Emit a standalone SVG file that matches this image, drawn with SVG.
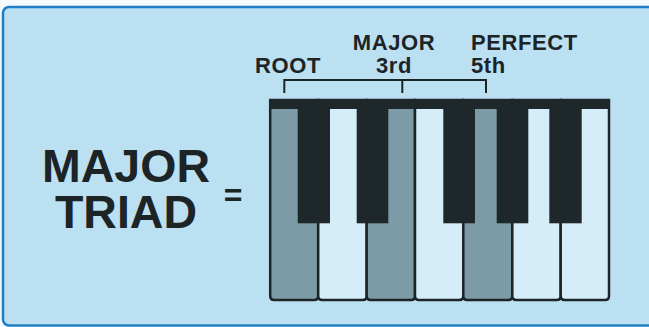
<svg xmlns="http://www.w3.org/2000/svg" width="649" height="327" viewBox="0 0 649 327">
<style>
.t{font-family:"Liberation Sans",Arial,sans-serif;font-weight:bold;fill:#1c2426}
.s{font-size:22px;letter-spacing:0.6px}
.wk{fill:#d5edf8;stroke:#1c2426;stroke-width:2.5}
.gk{fill:#7d9ba7;stroke:#1c2426;stroke-width:2.5}
.bk{fill:#1e2729}
.br{fill:none;stroke:#1c2426;stroke-width:2}
</style>
<rect width="649" height="327" fill="#f4fafd"/>
<rect id="frame" x="3" y="7" width="700" height="318.5" rx="6" fill="#bbe0f2" stroke="#1f7fc4" stroke-width="2.5"/>
<g id="title">
<text class="t" x="126" y="181.7" font-size="46.5" text-anchor="middle">MAJOR</text>
<text class="t" x="126" y="227.7" font-size="46.5" text-anchor="middle">TRIAD</text>
<text class="t" x="233" y="206" font-size="32" text-anchor="middle">=</text>
</g>
<g id="keyboard">
<path class="gk" d="M270.2,100 H318.2 V296 Q318.2,300 314.2,300 H274.2 Q270.2,300 270.2,296 Z"/>
<path class="wk" d="M318.2,100 H366.7 V296 Q366.7,300 362.7,300 H322.2 Q318.2,300 318.2,296 Z"/>
<path class="gk" d="M366.7,100 H415 V296 Q415,300 411,300 H370.7 Q366.7,300 366.7,296 Z"/>
<path class="wk" d="M415,100 H463.3 V296 Q463.3,300 459.3,300 H419 Q415,300 415,296 Z"/>
<path class="gk" d="M463.3,100 H512.3 V296 Q512.3,300 508.3,300 H467.3 Q463.3,300 463.3,296 Z"/>
<path class="wk" d="M512.3,100 H560.7 V296 Q560.7,300 556.7,300 H516.3 Q512.3,300 512.3,296 Z"/>
<path class="wk" d="M560.7,100 H609 V296 Q609,300 605,300 H564.7 Q560.7,300 560.7,296 Z"/>
<rect class="bk" x="269" y="99" width="341" height="10"/>
<rect class="bk" x="297.7" y="99" width="32.3" height="124.3"/>
<rect class="bk" x="356.7" y="99" width="31.6" height="124.3"/>
<rect class="bk" x="443.3" y="99" width="31.7" height="124.3"/>
<rect class="bk" x="496.7" y="99" width="31.6" height="124.3"/>
<rect class="bk" x="549.3" y="99" width="32.4" height="124.3"/>
</g>
<g id="connectors">
<path class="br" d="M284.3,93 V80 H486 V93 M402.3,80 V93"/>
</g>
<g id="labels">
<text class="t s" x="288" y="73.3" text-anchor="middle">ROOT</text>
<text class="t s" x="394" y="50" text-anchor="middle">MAJOR</text>
<text class="t s" x="394" y="73.3" text-anchor="middle">3rd</text>
<text class="t s" x="471" y="50">PERFECT</text>
<text class="t s" x="471" y="73.3">5th</text>
</g>
</svg>
